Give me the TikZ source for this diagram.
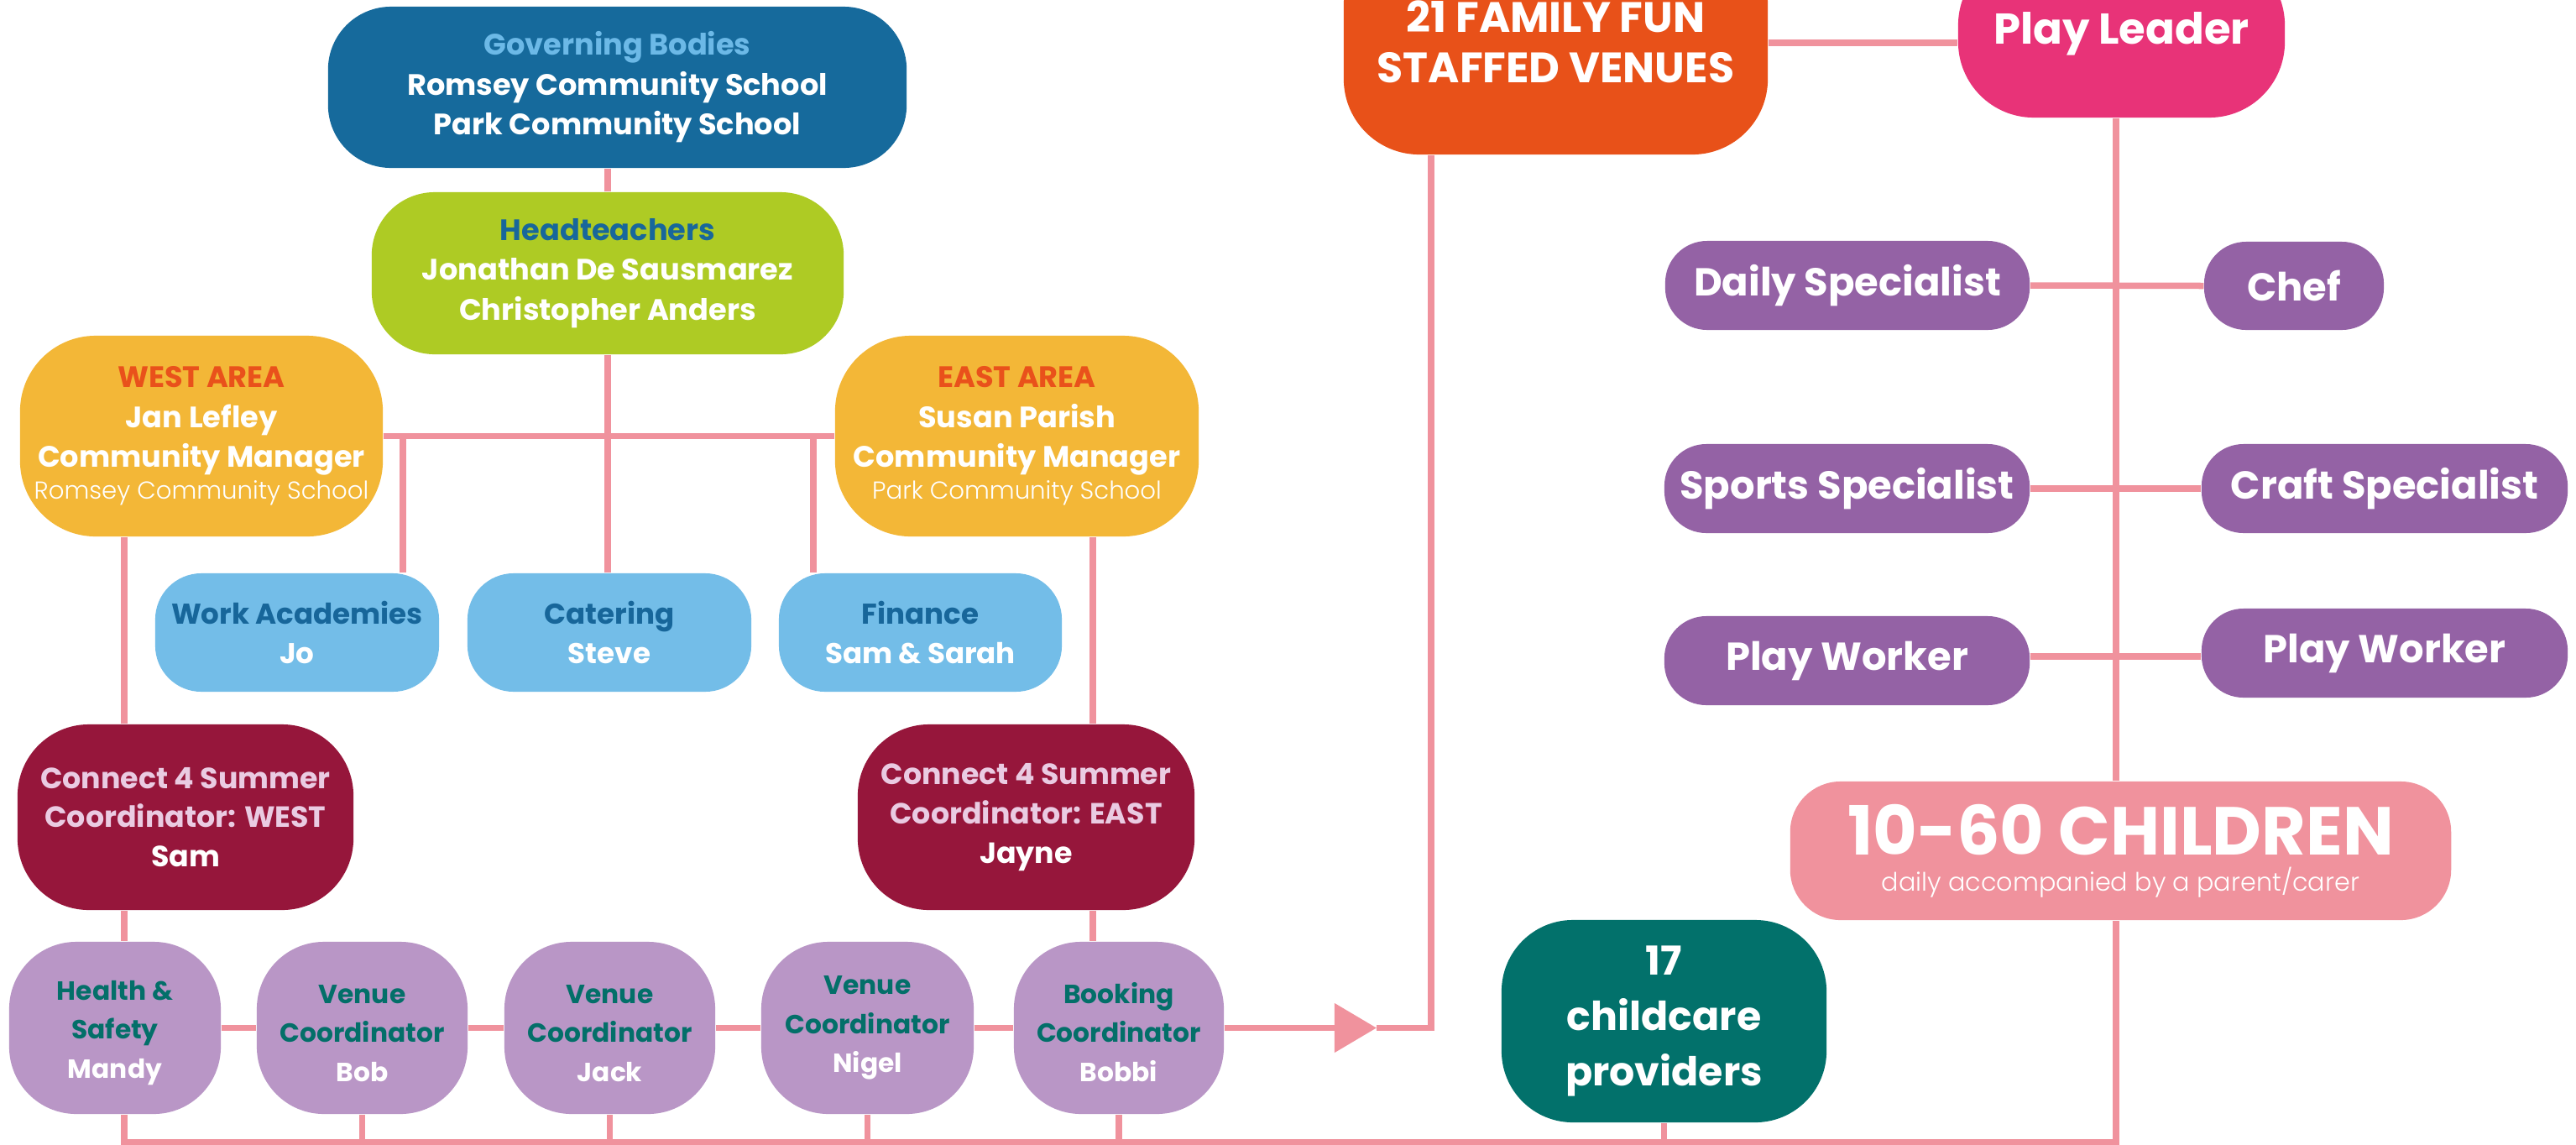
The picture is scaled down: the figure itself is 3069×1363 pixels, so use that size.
\documentclass[tikz,border=0pt]{standalone}
\usepackage{fontspec}
\setmainfont{Poppins}
\newfontfamily\plight{Poppins Light}
\usetikzlibrary{arrows.meta}
\definecolor{govc}{HTML}{166A9C}
\definecolor{govt}{HTML}{6CB9E7}
\definecolor{headc}{HTML}{AECB24}
\definecolor{headt}{HTML}{18679B}
\definecolor{areac}{HTML}{F3B737}
\definecolor{areat}{HTML}{E9511B}
\definecolor{lbluec}{HTML}{73BDE8}
\definecolor{lbluet}{HTML}{17669A}
\definecolor{cfc}{HTML}{96163B}
\definecolor{cft}{HTML}{EACBE2}
\definecolor{pbc}{HTML}{B996C6}
\definecolor{pbt}{HTML}{036F69}
\definecolor{lnk}{HTML}{F0929D}
\definecolor{ffc}{HTML}{E85119}
\definecolor{plc}{HTML}{E83378}
\definecolor{rpc}{HTML}{9462A5}
\definecolor{carec}{HTML}{02716B}
\tikzset{
  box/.style={rectangle, rounded corners=#1, inner sep=0pt, align=center, text=white},
  box/.default=0.5cm,
  conn/.style={draw=lnk, line width=0.075cm},
  fmain/.style={font=\fontsize{10}{13.5}\selectfont\bfseries},
  flblue/.style={font=\fontsize{9.7}{13.4}\selectfont\bfseries},
  fcf/.style={font=\fontsize{9.9}{13.3}\selectfont\bfseries},
  fpb/.style={font=\fontsize{8.9}{13.3}\selectfont\bfseries},
  fright/.style={font=\fontsize{13.2}{16}\selectfont\bfseries},
}
\newcommand\bx[9][]{%
  \pgfmathsetmacro\bxcx{(#3+#5)/2}%
  \pgfmathsetmacro\bxcy{(#4+#6)/2}%
  \pgfmathsetmacro\bxw{(#5-#3)/100}%
  \pgfmathsetmacro\bxh{(#6-#4)/100}%
  \node[box=#8, fill=#7, minimum width=\bxw cm, minimum height=\bxh cm, #1] (#2) at (\bxcx,\bxcy) {#9};}
\newcommand\flight[1]{{\plight\mdseries\fontsize{8.3}{10.8}\selectfont #1}}
\newcommand\tstrut{\rule{0pt}{10pt}}
\begin{document}
\begin{tikzpicture}[x=0.01cm, y=-0.01cm]
\useasboundingbox (0,0) rectangle (3069,1363);
\fill[white] (0,0) rectangle (3069,1363);
\clip (0,0) rectangle (3069,1363);
% ---- coordinates for connector routes
\coordinate (wtap) at (480,519.5);
\coordinate (ftap) at (969,519.5);
\coordinate (wx) at (148,0);
\coordinate (ex) at (1302,0);
\coordinate (fx) at (1705,0);
\coordinate (rx) at (2521,0);
\coordinate (bl) at (0,1361);
\coordinate (tcon) at (0,51);
\coordinate (pwc) at (0,782);
\coordinate (atip) at (1640,1224.5);
% ---- boxes
\bx[fmain]{gov}{391}{8}{1080}{200}{govc}{0.75cm}{\textcolor{govt}{Governing Bodies}\\Romsey Community School\\Park Community School}
\bx[fmain]{head}{443}{229}{1005}{422}{headc}{0.75cm}{\textcolor{headt}{Headteachers}\\Jonathan De Sausmarez\\Christopher Anders}
\bx[fmain]{west}{24}{400}{456}{639}{areac}{0.9cm}{\textcolor{areat}{WEST AREA}\\Jan Lefley\\Community Manager\\[-2.6pt]\flight{Romsey Community School}}
\bx[fmain]{east}{995}{400}{1428}{639}{areac}{0.9cm}{\textcolor{areat}{EAST AREA}\\Susan Parish\\Community Manager\\[-2.6pt]\flight{Park Community School}}
\bx[flblue]{work}{185}{683}{523}{824}{lbluec}{0.55cm}{\textcolor{lbluet}{Work Academies}\\Jo}
\bx[flblue]{cater}{557}{683}{895}{824}{lbluec}{0.55cm}{\textcolor{lbluet}{Catering}\\Steve}
\bx[flblue]{fin}{928}{683}{1265}{824}{lbluec}{0.55cm}{\textcolor{lbluet}{Finance}\\Sam \& Sarah}
\bx[fcf]{c4w}{21}{863}{421}{1084}{cfc}{0.85cm}{\textcolor{cft}{Connect 4 Summer}\\\textcolor{cft}{Coordinator: WEST}\\Sam}
\bx[fcf]{c4e}{1022}{863}{1423}{1084}{cfc}{0.85cm}{\textcolor{cft}{Connect 4 Summer}\\\textcolor{cft}{Coordinator: EAST}\\Jayne}
\bx[fpb]{hs}{11}{1122}{263}{1327}{pbc}{0.8cm}{\tstrut\textcolor{pbt}{Health \&}\\\textcolor{pbt}{Safety}\\Mandy}
\bx[fpb]{bob}{306}{1122}{557}{1327}{pbc}{0.8cm}{\tstrut\textcolor{pbt}{Venue}\\\textcolor{pbt}{Coordinator}\\Bob}
\bx[fpb]{jack}{601}{1122}{852}{1327}{pbc}{0.8cm}{\tstrut\textcolor{pbt}{Venue}\\\textcolor{pbt}{Coordinator}\\Jack}
\bx[fpb]{nigel}{907}{1122}{1160}{1327}{pbc}{0.8cm}{\textcolor{pbt}{Venue}\\\textcolor{pbt}{Coordinator}\\Nigel}
\bx[fpb]{book}{1208}{1122}{1458}{1327}{pbc}{0.8cm}{\tstrut\textcolor{pbt}{Booking}\\\textcolor{pbt}{Coordinator}\\Bobbi}
\bx[font=\fontsize{14.4}{17}\selectfont\bfseries]{ff}{1601}{-84}{2106}{184}{ffc}{0.9cm}{21 FAMILY FUN\\STAFFED VENUES}
\bx[font=\fontsize{14.6}{17}\selectfont\bfseries]{pl}{2333}{-60}{2722}{140}{plc}{0.9cm}{Play Leader}
\bx[fright]{daily}{1984}{287}{2418}{393}{rpc}{0.5cm}{Daily Specialist}
\bx[fright]{chef}{2626}{288}{2840}{393}{rpc}{0.5cm}{Chef}
\bx[fright]{sports}{1983}{529}{2418}{635}{rpc}{0.5cm}{Sports Specialist}
\bx[fright]{craft}{2623}{529}{3059}{635}{rpc}{0.5cm}{Craft Specialist}
\bx[fright]{pwa}{1983}{734}{2418}{840}{rpc}{0.5cm}{Play Worker}
\bx[fright]{pwb}{2623}{725}{3059}{831}{rpc}{0.5cm}{Play Worker}
\bx[font=\plight\fontsize{8.6}{12.2}\selectfont]{kids}{2133}{931}{2920}{1096}{lnk}{0.6cm}{{\rmfamily\bfseries\fontsize{23}{26}\selectfont 10-60 CHILDREN}\\daily accompanied by a parent/carer}
\bx[font=\fontsize{13.5}{18.8}\selectfont\bfseries]{care}{1789}{1096}{2176}{1337}{carec}{0.85cm}{17\\childcare\\providers}
% ---- connectors
\draw[conn] (head.north) -- (head.north |- gov.south);
\draw[conn] (west.east) -- (east.west);
\draw[conn] (head.south) -- (head.south |- cater.north);
\draw[conn] (wtap) -- (wtap |- work.north);
\draw[conn] (ftap) -- (ftap |- fin.north);
\draw[conn] (wx |- west.south) -- (wx |- c4w.north);
\draw[conn] (wx |- c4w.south) -- (wx |- hs.north);
\draw[conn] (ex |- east.south) -- (ex |- c4e.north);
\draw[conn] (ex |- c4e.south) -- (ex |- book.north);
\draw[conn] (hs.east) -- (bob.west);
\draw[conn] (bob.east) -- (jack.west);
\draw[conn] (jack.east) -- (nigel.west);
\draw[conn] (nigel.east) -- (book.west);
\draw[conn, -{Triangle[length=0.5cm, width=0.57cm]}] (book.east) -- (atip);
\draw[conn] (atip) -- (atip -| fx) -- (fx |- ff.south);
\draw[conn] (ff.east |- tcon) -- (pl.west |- tcon);
\draw[conn] (rx |- pl.south) -- (rx |- kids.north);
\draw[conn] (daily.east) -- (chef.west);
\draw[conn] (sports.east) -- (craft.west);
\draw[conn] (pwa.east |- pwc) -- (pwb.west |- pwc);
\draw[conn] (wx |- hs.south) -- (wx |- bl) -- (rx |- bl) -- (rx |- kids.south);
\draw[conn] (bob.south) -- (bob.south |- bl);
\draw[conn] (jack.south) -- (jack.south |- bl);
\draw[conn] (nigel.south) -- (nigel.south |- bl);
\draw[conn] (book.south) -- (book.south |- bl);
\draw[conn] (care.south) -- (care.south |- bl);
\end{tikzpicture}
\end{document}
